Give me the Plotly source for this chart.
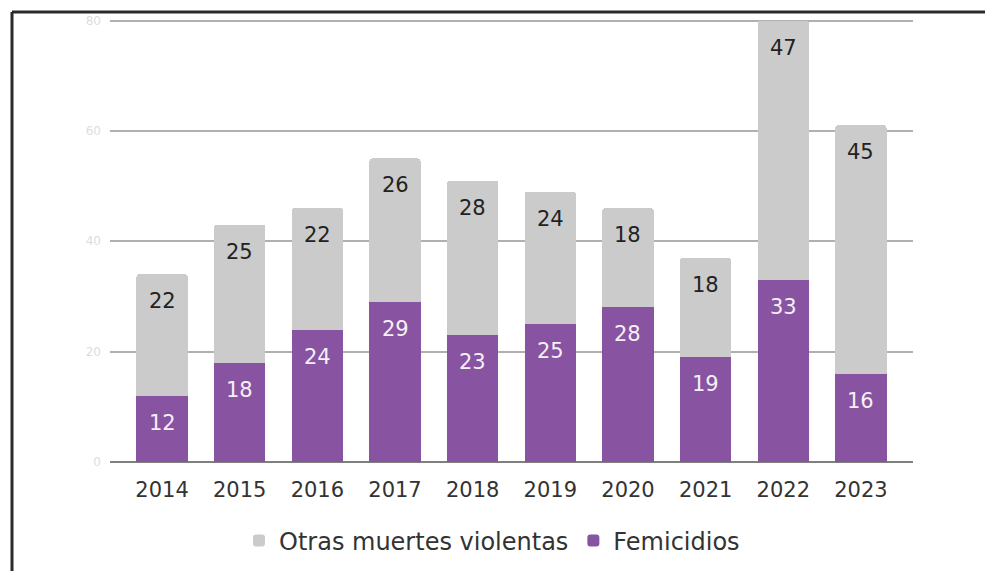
import plotly.graph_objects as go

years = ["2014", "2015", "2016", "2017", "2018", "2019", "2020", "2021", "2022", "2023"]
femicidios = [12, 18, 24, 29, 23, 25, 28, 19, 33, 16]
otras = [22, 25, 22, 26, 28, 24, 18, 18, 47, 45]
y_ticks = [0, 20, 40, 60, 80]

PURPLE = "#8853a0"
GRAY = "#cbcbcb"
FONT = "DejaVu Sans"

fig = go.Figure()
fig.add_bar(x=years, y=femicidios, name="Femicidios", marker_color=PURPLE,
            marker_line_width=0, hoverinfo="skip")
fig.add_bar(x=years, y=otras, name="Otras muertes violentas", marker_color=GRAY,
            marker_line_width=0, hoverinfo="skip")

annotations = []
for i, (f, o) in enumerate(zip(femicidios, otras)):
    annotations.append(dict(x=i, y=f, xref="x", yref="y", text=str(f), showarrow=False,
                            yanchor="top", yshift=-13,
                            font=dict(family=FONT, size=21, color="#f4f0f6")))
    annotations.append(dict(x=i, y=f + o, xref="x", yref="y", text=str(o), showarrow=False,
                            yanchor="top", yshift=-13,
                            font=dict(family=FONT, size=21, color="#222222")))

L, R, T, B = 110, 72, 15, 109
W, H = 985, 571
pw, ph = W - L - R, H - T - B

def px_x(px):
    return (px - L) / pw

def px_y(py):
    return (H - B - py) / ph

shapes = [
    dict(type="line", xref="paper", yref="paper", x0=px_x(12), x1=px_x(990),
         y0=px_y(12), y1=px_y(12), line=dict(color="#2a2a2a", width=3), layer="above"),
    dict(type="line", xref="paper", yref="paper", x0=px_x(12), x1=px_x(12),
         y0=px_y(12), y1=px_y(575), line=dict(color="#2a2a2a", width=3), layer="above"),
]

fig.update_layout(
    width=W, height=H,
    margin=dict(l=L, r=R, t=T, b=B, autoexpand=False),
    barmode="stack",
    bargap=0.34,
    barcornerradius=3,
    plot_bgcolor="white",
    paper_bgcolor="white",
    font=dict(family=FONT, color="#333333"),
    annotations=annotations,
    shapes=shapes,
    showlegend=True,
    legend=dict(orientation="h", traceorder="reversed", xref="container", yref="container",
                x=492 / W, xanchor="center", y=(H - 541) / H, yanchor="middle",
                font=dict(family=FONT, size=24, color="#333333"),
                itemclick=False, itemdoubleclick=False),
    xaxis=dict(type="category", range=[-0.67, 9.67], showgrid=False, showline=False,
               zeroline=False, ticks="", tickfont=dict(family=FONT, size=21, color="#333333"),
               ticklabelstandoff=13, fixedrange=True, automargin=False),
    yaxis=dict(range=[0, 81], tickvals=y_ticks, showgrid=True, gridcolor="#b0b0b0",
               gridwidth=2, zeroline=True, zerolinecolor="#808080", zerolinewidth=2,
               showline=False, ticks="", tickfont=dict(family=FONT, size=12, color="#dddddd"),
               ticklabelstandoff=8, fixedrange=True, automargin=False),
)

fig.write_html("out.html", config={"displayModeBar": False},
               post_script="document.body.style.margin='0';")
